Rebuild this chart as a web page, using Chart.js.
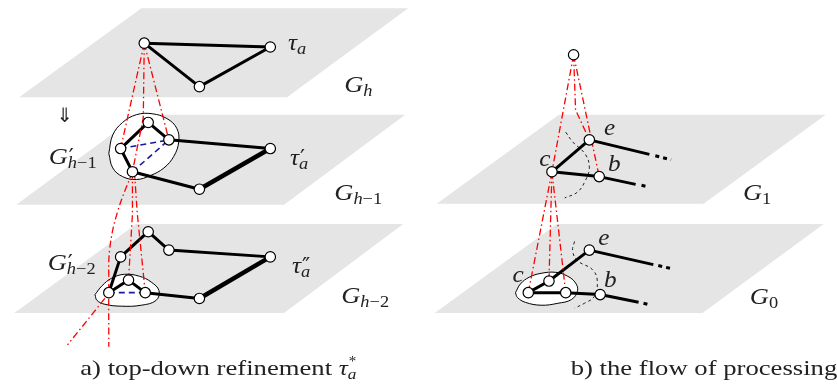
<!DOCTYPE html>
<html>
<head>
<meta charset="utf-8">
<script src="https://cdn.jsdelivr.net/npm/chart.js@4/dist/chart.umd.min.js"></script>
<style>
html,body{margin:0;padding:0;background:#fff;}
#wrap{width:837px;height:389px;}
</style>
</head>
<body>
<div id="wrap"><canvas id="c" width="837" height="389"></canvas></div>
<script>
// ---------- data (diagram coordinates in a 837 x 389 data space) ----------
const planeGh   = [[137,2],[408,2],[285,94],[13,94]];
const planeGh1  = [[134,112],[405,112],[282,205],[10,205]];
const planeGh2  = [[132,225],[403,225],[282,317],[8,317]];
const planeG1   = [[561,112],[832,112],[708,204],[437,204]];
const planeG0   = [[559,225],[830,225],[707,317],[435,317]];

const nodesLeft = [[140,38],[268,42],[196,83],
  [144,120],[165,138],[116,147],[128,171],[268,147],[196,189],
  [144,233],[165,252],[116,259],[268,259],[196,302],[124,283],[104,296],[141,296]];
const nodesRight = [[576,50],[592,138],[554,171],[602,176],[592,252],[530,296],[551,284],[568,296],[603,298]];

const edgesThin = [
  [[140,38],[268,42],[196,83],[140,38]],
  [[116,147],[144,120],[165,138],[268,147]],
  [[196,189],[128,171],[116,147]],
  [[104,296],[116,259],[144,233],[165,252],[268,259]],
  [[196,302],[141,296],[124,283],[104,296]],
  [[653,153],[592,138],[554,171],[602,176],[639,184]],
  [[530,296],[551,284],[592,252],[657,267]],
  [[530,296],[568,296],[603,298],[642,306]]
];
const edgesThick = [
  [[268,147],[196,189]],
  [[268,259],[196,302]]
];
const edgesDots = [
  [[659,154.5],[675,158.5]],
  [[645,185],[651,186.5]],
  [[662,268],[677,271.5]],
  [[647,307],[653,308.5]]
];
const blueDashed = [
  [[116,147],[165,138]],
  [[128,171],[165,138]],
  [[104,296],[141,296]]
];
const redStraight = [
  [[140,38],[116,147]],
  [[140,38],[139,115],[128,171]],
  [[140,38],[165,138]],
  [[128,171],[128,215],[124,283]],
  [[130,171],[133,215],[141,296]],
  [[100,302],[62,350]],
  [[576,50],[554,171]],
  [[576,50],[578,107],[592,138]],
  [[576,50],[602,176]],
  [[554,171],[530,296]],
  [[554,171],[551,284]],
  [[554,171],[568,296]]
];
const redCurved = [
  [[128,171],[113,212],[105,250],[104,290],[104,352]]
];
const blobs = [
  [[104,152],[108,133],[118,120],[132,112],[148,111],[163,116],[173,126],[175,140],[170,155],[160,167],[146,175],[132,179],[118,176],[108,167],[104,152]],
  [[90,298],[97,289],[107,281],[120,277],[135,279],[147,285],[155,294],[152,304],[137,309],[117,310],[100,308],[92,304],[90,298]],
  [[517,296],[522,287],[531,280],[543,276],[558,275],[570,279],[578,286],[580,294],[574,303],[560,307],[543,309],[527,306],[519,301],[517,296]]
];
const arcs = [
  [[568,130],[575,140],[588,153],[592,167],[588,180],[580,192],[567,198]],
  [[577,243],[575,253],[580,263],[595,272],[600,283],[597,300],[587,307],[577,312]]
];

// ---------- text ----------
const labelParts = [
  [['G','big'],['h','sub']],
  [['τ','tau'],['a','sub']],
  [['G','big'],['′','sup'],['h','sub'],['−1','subr']],
  [['τ','tau'],['′','sup'],['a','sub']],
  [['G','big'],['h','sub'],['−1','subr']],
  [['G','big'],['′','sup'],['h','sub'],['−2','subr']],
  [['τ','tau'],['″','sup'],['a','sub']],
  [['G','big'],['h','sub'],['−2','subr']],
  [['⇓','arrow']],
  [['e','mid']],[['c','mid']],[['b','mid']],[['G','big'],['1','subr']],
  [['e','mid']],[['c','mid']],[['b','mid']],[['G','big'],['0','subr']],
  [['a) top-down refinement ','cap'],['τ','capi'],['*','capsup'],['a','capsub']],
  [['b) the flow of processing','cap']]
];
const labelAnchors = [
  [343,88],[286,45],[43,163],[288,164],[333,200],[42,273],[290,276],[340,307],[51,120],
  [607,133],[541,165],[611,170],[748,200],
  [601,247],[514,285],[607,290],[755,308],
  [75,381],[573,381]
];

const SERIF = "'Liberation Serif', 'DejaVu Serif', serif";
const STYLES = {
  big:   {font:"italic 23px "+SERIF, sx:1.15},
  tau:   {font:"italic 23px "+SERIF, sx:1.1},
  sub:   {font:"italic 16px "+SERIF, dy:4, sx:1.15},
  subr:  {font:"16px "+SERIF, dy:4, sx:1.15},
  sup:   {font:"22px 'DejaVu Sans', sans-serif", dy:0, dx:1, noAdv:true},
  mid:   {font:"italic 23px "+SERIF, sx:1.1},
  arrow: {font:"20px 'DejaVu Sans', sans-serif"},
  cap:   {font:"21px "+SERIF, sx:1.27},
  capi:  {font:"italic 21px "+SERIF, sx:1.2},
  capsup:{font:"15px "+SERIF, dy:-9, dx:1, noAdv:true},
  capsub:{font:"italic 15px "+SERIF, dy:4, sx:1.15}
};

// ---------- datasets ----------
const toXY = pts => pts.map(p => ({x:p[0], y:p[1]}));
const datasets = [];
function line(pts, o) {
  datasets.push(Object.assign({
    data: toXY(pts), showLine:true, pointRadius:0, pointHoverRadius:0,
    borderColor:'#000', borderWidth:1, fill:false, tension:0,
    borderJoinStyle:'round', borderCapStyle:'butt'
  }, o));
}
[planeGh, planeGh1, planeGh2, planeG1, planeG0].forEach(p =>
  line(p.concat([p[0]]), {borderWidth:0, borderColor:'rgba(0,0,0,0)', backgroundColor:'#e5e5e5', fill:'shape', order:10}));
blobs.forEach(b => line(b, {borderWidth:1, borderColor:'#000', backgroundColor:'#fff', fill:'shape', tension:0.4, order:9}));
arcs.forEach(a => line(a, {borderWidth:1, borderColor:'#222', borderDash:[3,3], tension:0.4, order:8}));
edgesThin.forEach(e => line(e, {borderWidth:3, order:6}));
edgesThick.forEach(e => line(e, {borderWidth:4.5, order:6}));
edgesDots.forEach(e => line(e, {borderWidth:3, borderDash:[4,4], order:6}));
blueDashed.forEach(e => line(e, {borderWidth:1.6, borderColor:'#1a1aa0', borderDash:[6,4], order:5}));
redStraight.forEach(e => line(e, {borderWidth:1.3, borderColor:'#ff0000', borderDash:[7,3,1.5,3], order:4}));
redCurved.forEach(e => line(e, {borderWidth:1.3, borderColor:'#ff0000', borderDash:[7,3,1.5,3], tension:0.4, order:4}));
[nodesLeft, nodesRight].forEach(n => datasets.push({
  data: toXY(n), showLine:false, pointRadius:5.2, pointHoverRadius:5.2,
  pointBackgroundColor:'#fff', pointBorderColor:'#000', pointBorderWidth:1.2, order:0
}));

const textPlugin = {
  id:'diagramText',
  afterDatasetsDraw(chart) {
    const ctx = chart.ctx, xs = chart.scales.x, ys = chart.scales.y;
    ctx.save();
    ctx.fillStyle = '#222';
    ctx.textBaseline = 'alphabetic';
    ctx.textAlign = 'left';
    labelParts.forEach((parts, i) => {
      let cx = xs.getPixelForValue(labelAnchors[i][0]);
      const cy = ys.getPixelForValue(labelAnchors[i][1]);
      parts.forEach(([t, st]) => {
        const s = STYLES[st];
        const sx = s.sx || 1;
        ctx.font = s.font;
        ctx.save();
        ctx.translate(cx + (s.dx||0), cy + (s.dy||0));
        ctx.scale(sx, 1);
        ctx.fillText(t, 0, 0);
        ctx.restore();
        if (!s.noAdv) cx += ctx.measureText(t).width * sx;
      });
    });
    ctx.restore();
  }
};

new Chart(document.getElementById('c'), {
  type:'scatter',
  data:{datasets},
  options:{
    responsive:false, animation:false, devicePixelRatio:1, events:[],
    layout:{padding:0},
    plugins:{legend:{display:false}, tooltip:{enabled:false}, title:{display:false}},
    scales:{
      x:{type:'linear', min:0, max:837, display:false},
      y:{type:'linear', min:0, max:389, reverse:true, display:false}
    }
  },
  plugins:[textPlugin]
});
</script>
</body>
</html>
